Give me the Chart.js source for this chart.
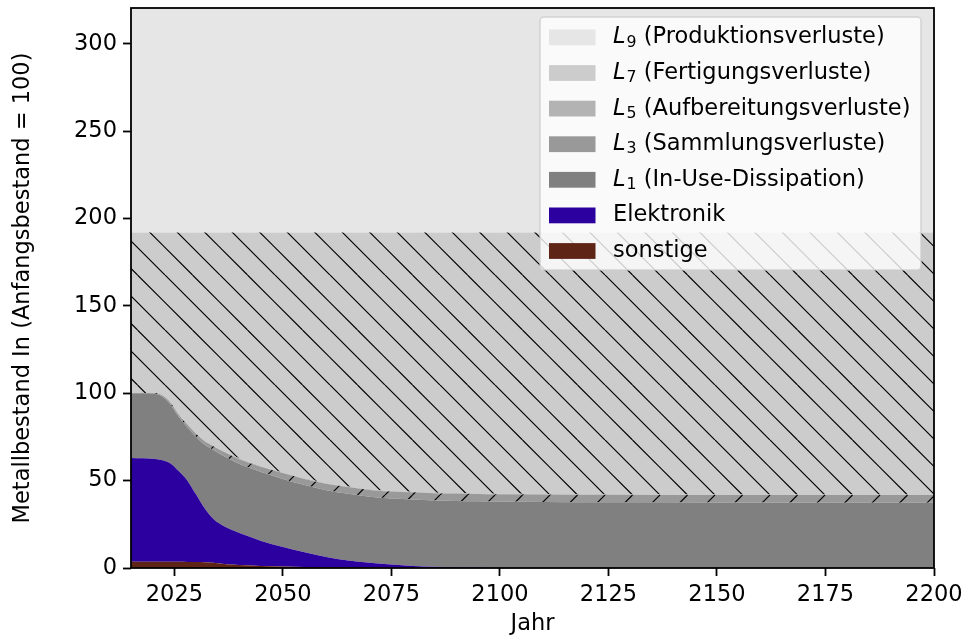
<!DOCTYPE html>
<html>
<head>
<meta charset="utf-8">
<script src="https://cdn.jsdelivr.net/npm/chart.js@4.4.1/dist/chart.umd.min.js"></script>
<style>
  html, body { margin: 0; padding: 0; background: #ffffff; }
  #wrap { width: 966px; height: 639px; }
</style>
</head>
<body>
<div id="wrap"><canvas id="c" width="966" height="639"></canvas></div>
<script>
// Zeitachse (Jahre)
const jahre = [2015, 2018, 2020, 2022, 2024, 2026, 2028, 2030, 2032, 2034, 2036, 2038, 2040, 2045, 2050,
               2055, 2060, 2065, 2070, 2075, 2080, 2085, 2090, 2095, 2100, 2110, 2125, 2150, 2175, 2200];

// Bestand in Anwendungen
const sonstige   = [3.6, 3.6, 3.6, 3.6, 3.6, 3.6, 3.5, 3.5, 3.3, 3.0, 2.5, 2.0, 1.7, 1.1, 0.8,
                    0.6, 0.5, 0.4, 0.3, 0.2, 0.15, 0.1, 0.05, 0.03, 0, 0, 0, 0, 0, 0];
const elektronik = [59.4, 59.2, 58.9, 58.2, 56.4, 51.9, 46.5, 38.5, 30.7, 25.0, 22.0, 20.0, 18.3, 14.4, 11.2,
                    8.4, 5.8, 3.9, 2.7, 1.8, 1.05, 0.6, 0.35, 0.22, 0.1, 0, 0, 0, 0, 0];

// Kumulierte Verluste
const l1 = [37.0, 37.2, 37.3, 36.7, 34.0, 31.0, 30.5, 33.0, 36.5, 39.5, 40.0, 40.0, 39.5, 39.5, 39.0,
            38.5, 38.2, 38.2, 37.8, 37.8, 38.0, 38.0, 38.0, 37.95, 37.9, 37.8, 37.6, 37.5, 37.4, 37.4];
const l3 = [0, 0.1, 0.3, 0.6, 1.0, 1.3, 1.6, 1.8, 2.0, 2.2, 2.4, 2.6, 2.8, 3.0, 3.3,
            3.5, 3.7, 3.8, 3.9, 4.0, 4.1, 4.1, 4.2, 4.2, 4.2, 4.3, 4.3, 4.3, 4.4, 4.4];
const l5 = [0, 0, 0, 0.1, 0.2, 0.2, 0.3, 0.3, 0.3, 0.3, 0.3, 0.3, 0.3, 0.3, 0.3,
            0.3, 0.3, 0.3, 0.3, 0.3, 0.3, 0.3, 0.3, 0.3, 0.3, 0.3, 0.3, 0.3, 0.3, 0.3];
const l7 = [92.0, 91.9, 91.9, 92.8, 96.8, 104.0, 109.6, 114.9, 119.2, 122.0, 124.8, 127.1, 129.4, 133.7, 137.4,
            140.7, 143.5, 145.4, 147.0, 147.9, 148.4, 148.9, 149.1, 149.3, 149.5, 149.6, 149.8, 149.9, 149.9, 149.9];
const l9 = [140, 140, 140, 140, 140, 140, 140, 140, 140, 140, 140, 140, 140, 140, 140,
            140, 140, 140, 140, 140, 140, 140, 140, 140, 140, 140, 140, 140, 140, 140];

// Achsenbeschriftung
const xTicks = [2025, 2050, 2075, 2100, 2125, 2150, 2175, 2200];
const yTicks = [0, 50, 100, 150, 200, 250, 300];

const FONT = '"DejaVu Sans", "Liberation Sans", sans-serif';
const FS = 22.5;

// Schraffur-Kacheln (Rastermaß 27,5 px, am Canvas-Ursprung ausgerichtet)
function schraffur(grund, richtung) {
  const s = 55;
  const cv = document.createElement('canvas');
  cv.width = s; cv.height = s;
  const g = cv.getContext('2d');
  g.fillStyle = grund;
  g.fillRect(0, 0, s, s);
  g.strokeStyle = '#000000';
  g.lineWidth = 1.2;
  g.beginPath();
  for (let k = -2; k <= 4; k++) {
    const c = k * 27.5;
    if (richtung === '\\') { g.moveTo(c, 0); g.lineTo(c + s, s); }
    else { g.moveTo(c, 0); g.lineTo(c - s, s); }
  }
  g.stroke();
  return g.createPattern(cv, 'repeat');
}

const FARBE = {
  sonstige: '#5e2516',
  elektronik: '#2c009e',
  l1: '#808080',
  l3: '#999999',
  l5: '#b3b3b3',
  l7: '#cccccc',
  l9: '#e6e6e6'
};

function schicht(werte, farbe, fuellung, legende) {
  return Object.assign({
    data: werte.map((v, i) => ({ x: jahre[i], y: v })),
    backgroundColor: fuellung || farbe,
    borderColor: 'rgba(0,0,0,0)',
    borderWidth: 0,
    pointRadius: 0,
    pointHoverRadius: 0,
    cubicInterpolationMode: 'monotone',
    fill: '-1',
    legendColor: farbe
  }, legende);
}

const datasets = [
  schicht(sonstige, FARBE.sonstige, null, { text: 'sonstige', fill: 'origin' }),
  schicht(elektronik, FARBE.elektronik, null, { text: 'Elektronik' }),
  schicht(l1, FARBE.l1, null, { symbol: 'L', sub: '1', text: ' (In-Use-Dissipation)' }),
  schicht(l3, FARBE.l3, schraffur(FARBE.l3, '/'), { symbol: 'L', sub: '3', text: ' (Sammlungsverluste)' }),
  schicht(l5, FARBE.l5, null, { symbol: 'L', sub: '5', text: ' (Aufbereitungsverluste)' }),
  schicht(l7, FARBE.l7, schraffur(FARBE.l7, '\\'), { symbol: 'L', sub: '7', text: ' (Fertigungsverluste)' }),
  schicht(l9, FARBE.l9, null, { symbol: 'L', sub: '9', text: ' (Produktionsverluste)' })
];

// Rahmen um die Zeichenfläche
const rahmen = {
  id: 'rahmen',
  afterDatasetsDraw(chart) {
    const { ctx, chartArea: a } = chart;
    ctx.save();
    ctx.strokeStyle = '#000000';
    ctx.lineWidth = 1.8;
    ctx.strokeRect(a.left, a.top, a.right - a.left, a.bottom - a.top);
    ctx.restore();
  }
};

// Legende mit kursivem Symbol und tiefgestelltem Index
const legende = {
  id: 'legende',
  afterDraw(chart) {
    const { ctx, chartArea: a } = chart;
    const w = 381, h = 253;
    const x0 = a.right - 13 - w, y0 = a.top + 9;
    ctx.save();
    ctx.beginPath();
    ctx.roundRect(x0, y0, w, h, 4);
    ctx.fillStyle = 'rgba(255,255,255,0.8)';
    ctx.fill();
    ctx.strokeStyle = 'rgba(204,204,204,0.8)';
    ctx.lineWidth = 1.5;
    ctx.stroke();
    const eintraege = chart.data.datasets.slice().reverse();
    eintraege.forEach((d, i) => {
      const cy = y0 + 20.5 + i * 35.6;
      ctx.fillStyle = d.legendColor;
      ctx.fillRect(x0 + 9, cy - 8, 46.5, 15.8);
      let tx = x0 + 73;
      ctx.fillStyle = '#000000';
      ctx.textBaseline = 'middle';
      ctx.textAlign = 'left';
      if (d.symbol) {
        ctx.font = 'italic ' + FS + 'px ' + FONT;
        ctx.fillText(d.symbol, tx, cy);
        tx += ctx.measureText(d.symbol).width + 1;
        ctx.font = (FS * 0.7) + 'px ' + FONT;
        ctx.fillText(d.sub, tx, cy + 5);
        tx += ctx.measureText(d.sub).width;
      }
      ctx.font = FS + 'px ' + FONT;
      ctx.fillText(d.text, tx, cy);
    });
    ctx.restore();
  }
};

Chart.defaults.color = '#000000';
Chart.defaults.font.family = FONT;

new Chart(document.getElementById('c'), {
  type: 'line',
  data: { datasets },
  plugins: [rahmen, legende],
  options: {
    responsive: false,
    devicePixelRatio: 1,
    animation: false,
    layout: { padding: { left: 0, right: 32, top: 8, bottom: 0 } },
    plugins: {
      legend: { display: false },
      tooltip: { enabled: false },
      filler: { propagate: false }
    },
    scales: {
      x: {
        type: 'linear',
        min: 2015,
        max: 2200,
        afterBuildTicks: s => { s.ticks = xTicks.map(v => ({ value: v })); },
        afterFit: s => { s.height = 71; s.paddingLeft = 0; s.paddingRight = 0; },
        border: { display: false },
        grid: { drawOnChartArea: false, drawTicks: true, tickLength: 8, tickWidth: 1.8, tickColor: '#000000' },
        ticks: { font: { size: FS }, padding: 6, maxRotation: 0, autoSkip: false, callback: v => String(v) },
        title: { display: true, text: 'Jahr', font: { size: FS }, padding: { top: 0, bottom: 1 } }
      },
      y: {
        stacked: true,
        min: 0,
        max: 320.5,
        afterBuildTicks: s => { s.ticks = yTicks.map(v => ({ value: v })); },
        afterFit: s => { s.width = 131; s.paddingTop = 0; s.paddingBottom = 0; },
        border: { display: false },
        grid: { drawOnChartArea: false, drawTicks: true, tickLength: 8, tickWidth: 1.8, tickColor: '#000000' },
        ticks: { font: { size: FS }, padding: 6, autoSkip: false, callback: v => String(v) },
        title: { display: true, text: 'Metallbestand In (Anfangsbestand = 100)', font: { size: FS }, padding: { top: 10, bottom: 0 } }
      }
    }
  }
});
</script>
</body>
</html>
